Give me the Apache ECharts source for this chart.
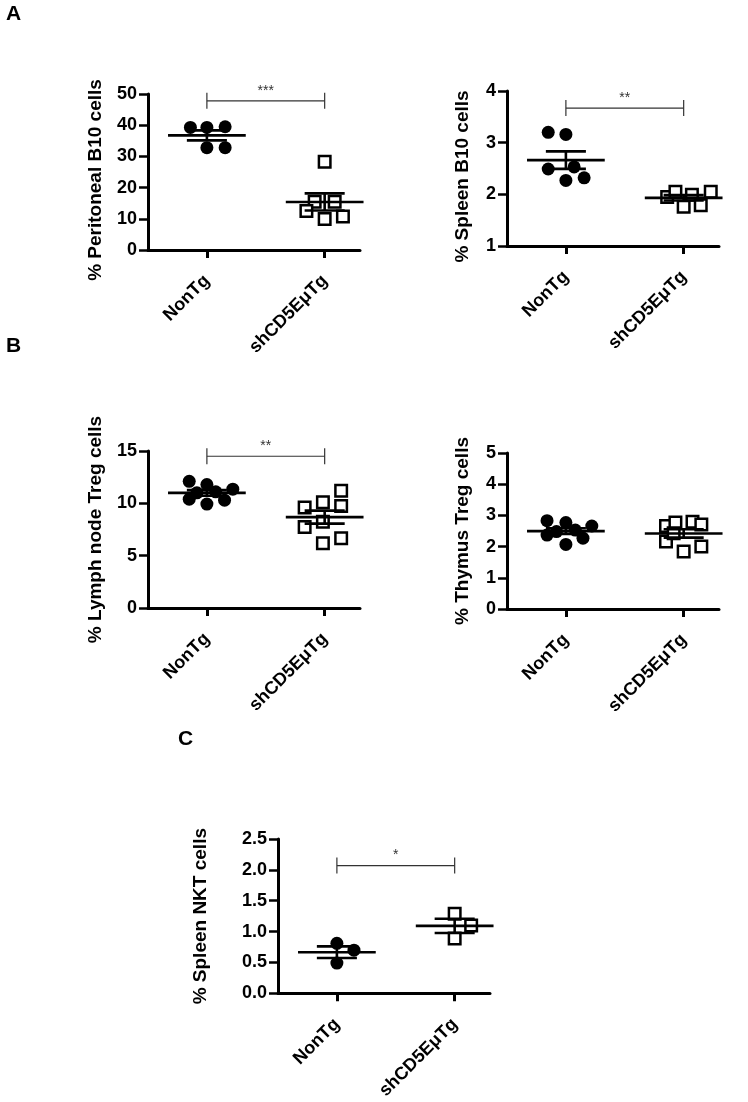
<!DOCTYPE html>
<html><head><meta charset="utf-8">
<script src="https://cdn.jsdelivr.net/npm/echarts@6/dist/echarts.min.js"></script>
<style>html,body{margin:0;padding:0;background:#fff}#c{width:748px;height:1102px}</style>
</head><body><div id="c"></div>
<script>
// ---------- data ----------
const categories = ['NonTg', 'shCD5EμTg'];

const yTitles = ['% Peritoneal B10 cells', '% Spleen B10 cells', '% Lymph node Treg cells', '% Thymus Treg cells', '% Spleen NKT cells'];
const panelLetters = ['A', 'B', 'C'];

const peritonealNonTg = [39.3, 39.3, 39.5, 32.8, 32.8];
const peritonealNonTgJitter = [-0.14, 0, 0.155, 0, 0.155];
const peritonealSh = [28.3, 15.5, 15.5, 12.5, 9.9, 10.7];
const peritonealShJitter = [0, -0.085, 0.085, -0.155, 0, 0.155];

const spleenB10NonTg = [3.20, 3.16, 2.49, 2.53, 2.32, 2.27];
const spleenB10NonTgJitter = [-0.15, 0, -0.15, 0.07, 0.155, 0];
const spleenB10Sh = [1.95, 2.05, 1.76, 1.99, 1.79, 2.05];
const spleenB10ShJitter = [-0.14, -0.07, 0, 0.07, 0.145, 0.23];

const lymphNonTg = [12.1, 11.8, 11.35, 10.4, 9.93, 10.3, 11.0, 11.1];
const lymphNonTgJitter = [-0.15, 0, 0.22, -0.15, 0, 0.15, -0.085, 0.075];
const lymphSh = [11.2, 10.1, 9.6, 9.74, 7.74, 8.24, 6.18, 6.66];
const lymphShJitter = [0.14, -0.015, -0.17, 0.14, -0.17, -0.015, -0.015, 0.14];

const thymusNonTg = [2.83, 2.77, 2.66, 2.37, 2.07, 2.27, 2.48, 2.53];
const thymusNonTgJitter = [-0.16, 0, 0.22, -0.16, 0, 0.145, -0.08, 0.08];
const thymusSh = [2.66, 2.77, 2.80, 2.71, 2.16, 1.84, 2.00, 2.43];
const thymusShJitter = [-0.15, -0.07, 0.075, 0.15, -0.15, 0, 0.15, -0.085];

const nktNonTg = [0.81, 0.70, 0.49];
const nktNonTgJitter = [0, 0.145, 0];
const nktSh = [1.29, 1.10, 0.89];
const nktShJitter = [0, 0.14, 0];

const bracketLevels = [47.8, 3.67, 14.5, null, 2.07];
const bracketStars = ['***', '**', '**', '', '*'];

// ---------- layout / style ----------
const FONT = 'Liberation Sans, Arial, sans-serif';
const layouts = [
  {grid:{left:148, top:94,  width:212, height:156}, yMin:0, yMax:50,  yInt:10,  nameGap:43, dec:0, shift:16},
  {grid:{left:507, top:91,  width:212, height:155}, yMin:1, yMax:4,   yInt:1,   nameGap:35, dec:0, shift:16},
  {grid:{left:148, top:451, width:212, height:157}, yMin:0, yMax:15,  yInt:5,   nameGap:43, dec:0, shift:0},
  {grid:{left:507, top:453, width:212, height:156}, yMin:0, yMax:5,   yInt:1,   nameGap:35, dec:0, shift:0},
  {grid:{left:278, top:839, width:212, height:157}, yMin:0, yMax:2.5, yInt:0.5, nameGap:68, dec:1, shift:0}
];
const groups = [
  [[peritonealNonTg, peritonealNonTgJitter], [peritonealSh, peritonealShJitter]],
  [[spleenB10NonTg, spleenB10NonTgJitter], [spleenB10Sh, spleenB10ShJitter]],
  [[lymphNonTg, lymphNonTgJitter], [lymphSh, lymphShJitter]],
  [[thymusNonTg, thymusNonTgJitter], [thymusSh, thymusShJitter]],
  [[nktNonTg, nktNonTgJitter], [nktSh, nktShJitter]]
];
const MEAN_HALF = 0.33, SEM_HALF = 0.17;

function meanSem(arr) {
  const n = arr.length;
  const m = arr.reduce((a, b) => a + b, 0) / n;
  const v = arr.reduce((a, b) => a + (b - m) * (b - m), 0) / (n - 1);
  return [m, Math.sqrt(v) / Math.sqrt(n)];
}

const grids = [], xAxes = [], yAxes = [], series = [];
layouts.forEach((L, i) => {
  grids.push(Object.assign({containLabel: false}, L.grid));
  xAxes.push({
    gridIndex: i, type: 'value', min: -0.5, max: 1.3,
    splitLine: {show: false},
    axisLine: {show: true, onZero: false, lineStyle: {color: '#000', width: 3}},
    axisTick: {show: true, customValues: [0, 1], length: 8, lineStyle: {color: '#000', width: 3}},
    axisLabel: {customValues: [0, 1], formatter: v => categories[Math.round(v)] || '',
      rotate: 45, margin: 28, fontSize: 18, fontWeight: 'bold', color: '#000', fontFamily: FONT}
  });
  yAxes.push({
    gridIndex: i, type: 'value', min: L.yMin, max: L.yMax, interval: L.yInt,
    splitLine: {show: false},
    axisLine: {show: true, onZero: false, lineStyle: {color: '#000', width: 3}},
    axisTick: {show: true, length: 9, lineStyle: {color: '#000', width: 2.5}},
    axisLabel: {margin: 11, fontSize: 18, fontWeight: 'bold', color: '#000', fontFamily: FONT,
      formatter: v => v.toFixed(L.dec)},
    name: yTitles[i], nameLocation: 'middle', nameRotate: 90, nameGap: L.nameGap,
    nameTextStyle: {fontSize: 19, fontWeight: 'bold', color: '#000', fontFamily: FONT,
      padding: [0, L.shift, 0, 0]}
  });
  const stats = [];
  groups[i].forEach((g, gi) => {
    const vals = g[0], jit = g[1];
    series.push({
      type: 'scatter', xAxisIndex: i, yAxisIndex: i, z: 2,
      symbol: gi === 0 ? 'circle' : 'rect',
      symbolSize: gi === 0 ? 13 : 11.5,
      itemStyle: gi === 0 ? {color: '#000', opacity: 1} : {color: '#fff', borderColor: '#000', borderWidth: 2.5, opacity: 1},
      data: vals.map((v, k) => [gi + jit[k], v])
    });
    const ms = meanSem(vals);
    stats.push([gi, ms[0], ms[1]]);
  });
  series.push({
    type: 'custom', xAxisIndex: i, yAxisIndex: i, z: 3, clip: false,
    encode: {x: 0, y: 1},
    data: stats,
    renderItem: (params, api) => {
      const x = api.value(0), m = api.value(1), s = api.value(2);
      const seg = (a, b) => {
        const p1 = api.coord(a), p2 = api.coord(b);
        return {type: 'line', shape: {x1: p1[0], y1: p1[1], x2: p2[0], y2: p2[1]},
          style: {stroke: '#000', lineWidth: 2.6}};
      };
      return {type: 'group', children: [
        seg([x - MEAN_HALF, m], [x + MEAN_HALF, m]),
        seg([x - SEM_HALF, m + s], [x + SEM_HALF, m + s]),
        seg([x - SEM_HALF, m - s], [x + SEM_HALF, m - s]),
        seg([x, m - s], [x, m + s])
      ]};
    }
  });
  if (bracketLevels[i] !== null) {
    const stars = bracketStars[i];
    series.push({
      type: 'custom', xAxisIndex: i, yAxisIndex: i, z: 3, clip: false,
      encode: {x: 0, y: 2},
      data: [[0, 1, bracketLevels[i]]],
      renderItem: (params, api) => {
        const a = api.coord([api.value(0), api.value(2)]);
        const b = api.coord([api.value(1), api.value(2)]);
        const st = {stroke: '#333', lineWidth: 1.2};
        return {type: 'group', children: [
          {type: 'line', shape: {x1: a[0], y1: a[1], x2: b[0], y2: b[1]}, style: st},
          {type: 'line', shape: {x1: a[0], y1: a[1] - 8, x2: a[0], y2: a[1] + 8}, style: st},
          {type: 'line', shape: {x1: b[0], y1: b[1] - 8, x2: b[0], y2: b[1] + 8}, style: st},
          {type: 'text', x: (a[0] + b[0]) / 2, y: a[1] - 10,
            style: {text: stars, fill: '#333', font: '14px ' + FONT, align: 'center', verticalAlign: 'middle'}}
        ]};
      }
    });
  }
});

const letterPos = [{left: 6, top: 4}, {left: 6, top: 336}, {left: 178, top: 729}];
const titles = panelLetters.map((t, k) => Object.assign({
  text: t, textStyle: {fontSize: 21, fontWeight: 'bold', color: '#000', fontFamily: FONT}, padding: 0
}, letterPos[k]));

const chart = echarts.init(document.getElementById('c'), null, {renderer: 'canvas'});
chart.setOption({
  animation: false,
  backgroundColor: '#fff',
  title: titles,
  grid: grids, xAxis: xAxes, yAxis: yAxes, series: series
});
</script></body></html>
